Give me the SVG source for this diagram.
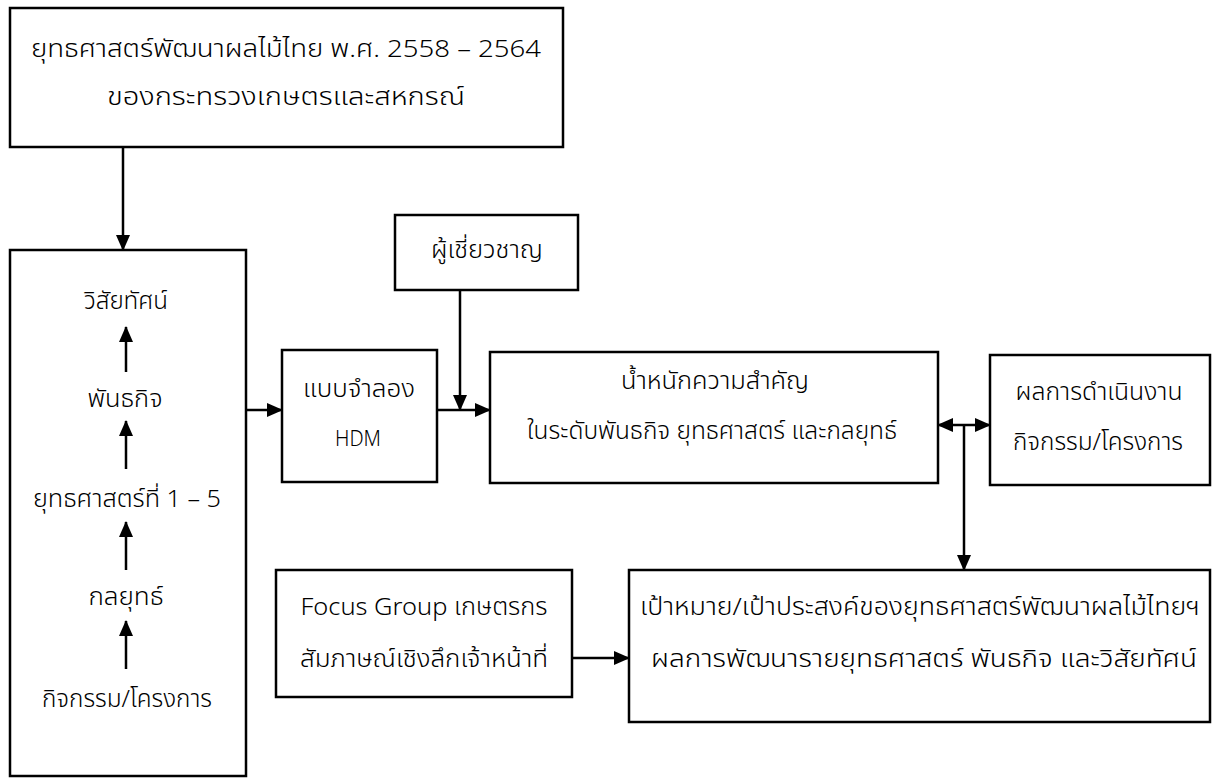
<svg xmlns="http://www.w3.org/2000/svg" width="1214" height="781" viewBox="0 0 1214 781">
  <style>
    .box { fill: #ffffff; stroke: #000000; stroke-width: 2.5; }
    .lbl { font-family: "Noto Sans Thai", "Noto Sans Thai UI", "Leelawadee UI", Tahoma, "Noto Sans", "DejaVu Sans", sans-serif; font-size: 24px; font-weight: 300; fill: #000000; text-anchor: middle; dominant-baseline: central; }
    .lat { font-family: "Noto Sans", "Liberation Sans", Arial, sans-serif; font-size: 21px; font-weight: 300; fill: #000000; text-anchor: middle; dominant-baseline: central; }
    .wire { fill: none; stroke: #000000; stroke-width: 2.5; }
  </style>
  <defs>
    <marker id="head" markerUnits="userSpaceOnUse" markerWidth="16" markerHeight="16" viewBox="0 0 16 16" refX="15" refY="8" orient="auto-start-reverse">
      <path d="M0,1 L16,8 L0,15 Z" fill="#000000"/>
    </marker>
  </defs>
  <rect width="1214" height="781" fill="#ffffff"/>

  <g id="strategy-plan">
    <rect class="box" x="10" y="8" width="553" height="139"/>
    <text class="lbl" x="286" y="50" textLength="510" lengthAdjust="spacingAndGlyphs">ยุทธศาสตร์พัฒนาผลไม้ไทย พ.ศ. 2558 – 2564</text>
    <text class="lbl" x="286" y="98" textLength="358" lengthAdjust="spacingAndGlyphs">ของกระทรวงเกษตรและสหกรณ์</text>
  </g>

  <g id="hierarchy">
    <rect class="box" x="10" y="250" width="236" height="526"/>
    <text class="lbl" x="126" y="302" textLength="84" lengthAdjust="spacingAndGlyphs">วิสัยทัศน์</text>
    <text class="lbl" x="125" y="400" textLength="75" lengthAdjust="spacingAndGlyphs">พันธกิจ</text>
    <text class="lbl" x="127" y="500" textLength="188" lengthAdjust="spacingAndGlyphs">ยุทธศาสตร์ที่ 1 – 5</text>
    <text class="lbl" x="126" y="598" textLength="75" lengthAdjust="spacingAndGlyphs">กลยุทธ์</text>
    <text class="lbl" x="127" y="700" textLength="170" lengthAdjust="spacingAndGlyphs">กิจกรรม/โครงการ</text>
  </g>

  <g id="hdm-model">
    <rect class="box" x="282" y="350" width="155" height="132"/>
    <text class="lbl" x="359" y="390" textLength="112" lengthAdjust="spacingAndGlyphs">แบบจำลอง</text>
    <text class="lat" x="358" y="438" textLength="46" lengthAdjust="spacingAndGlyphs">HDM</text>
  </g>

  <g id="experts">
    <rect class="box" x="395" y="215" width="183" height="75"/>
    <text class="lbl" x="487" y="251" textLength="112" lengthAdjust="spacingAndGlyphs">ผู้เชี่ยวชาญ</text>
  </g>

  <g id="weights">
    <rect class="box" x="490" y="352" width="448" height="131"/>
    <text class="lbl" x="715" y="382" textLength="188" lengthAdjust="spacingAndGlyphs">น้ำหนักความสำคัญ</text>
    <text class="lbl" x="712" y="432" textLength="370" lengthAdjust="spacingAndGlyphs">ในระดับพันธกิจ ยุทธศาสตร์ และกลยุทธ์</text>
  </g>

  <g id="performance">
    <rect class="box" x="990" y="355" width="220" height="130"/>
    <text class="lbl" x="1099" y="393" textLength="167" lengthAdjust="spacingAndGlyphs">ผลการดำเนินงาน</text>
    <text class="lbl" x="1098" y="443" textLength="170" lengthAdjust="spacingAndGlyphs">กิจกรรม/โครงการ</text>
  </g>

  <g id="focus-group">
    <rect class="box" x="276" y="570" width="296" height="127"/>
    <text class="lbl" x="424" y="608" textLength="247" lengthAdjust="spacingAndGlyphs">Focus Group เกษตรกร</text>
    <text class="lbl" x="424" y="660" textLength="248" lengthAdjust="spacingAndGlyphs">สัมภาษณ์เชิงลึกเจ้าหน้าที่</text>
  </g>

  <g id="goals">
    <rect class="box" x="629" y="570" width="581" height="152"/>
    <text class="lbl" x="920" y="608" textLength="560" lengthAdjust="spacingAndGlyphs">เป้าหมาย/เป้าประสงค์ของยุทธศาสตร์พัฒนาผลไม้ไทยฯ</text>
    <text class="lbl" x="924" y="660" textLength="546" lengthAdjust="spacingAndGlyphs">ผลการพัฒนารายยุทธศาสตร์ พันธกิจ และวิสัยทัศน์</text>
  </g>

  <g id="connectors">
    <line class="wire" x1="123" y1="147" x2="123" y2="250" marker-end="url(#head)"/>
    <line class="wire" x1="126" y1="372" x2="126" y2="327" marker-end="url(#head)"/>
    <line class="wire" x1="126" y1="469" x2="126" y2="421" marker-end="url(#head)"/>
    <line class="wire" x1="126" y1="570" x2="126" y2="522" marker-end="url(#head)"/>
    <line class="wire" x1="126" y1="669" x2="126" y2="621" marker-end="url(#head)"/>
    <line class="wire" x1="246" y1="410" x2="282" y2="410" marker-end="url(#head)"/>
    <line class="wire" x1="437" y1="410" x2="490" y2="410" marker-end="url(#head)"/>
    <line class="wire" x1="460" y1="290" x2="460" y2="410" marker-end="url(#head)"/>
    <line class="wire" x1="938" y1="425" x2="990" y2="425" marker-start="url(#head)" marker-end="url(#head)"/>
    <line class="wire" x1="964" y1="425" x2="964" y2="570" marker-end="url(#head)"/>
    <line class="wire" x1="572" y1="658" x2="629" y2="658" marker-end="url(#head)"/>
  </g>
</svg>
